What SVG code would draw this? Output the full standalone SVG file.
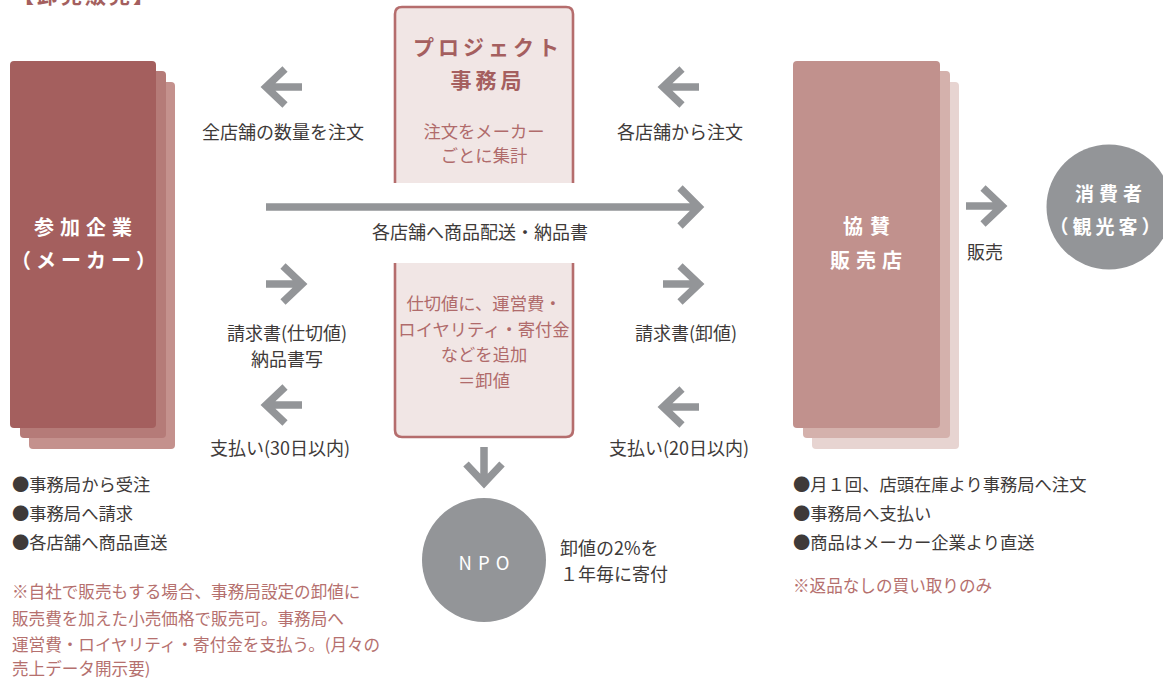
<svg xmlns="http://www.w3.org/2000/svg" width="1163" height="680" viewBox="0 0 1163 680">
<defs>
<style>
text{font-family:"Noto Sans CJK JP","Noto Sans",sans-serif;}
.lbl{font-size:18px;fill:#3e3a39;text-anchor:middle;}
.bul{font-size:17.3px;fill:#3e3a39;}
.note{font-size:16.6px;fill:#b5706e;}
.boxt{font-size:21px;font-weight:bold;fill:#a55f5f;text-anchor:middle;letter-spacing:4px;}
.boxb{font-size:17.3px;fill:#b06b6b;text-anchor:middle;}
.wt{font-size:20px;font-weight:bold;fill:#ffffff;text-anchor:middle;}
.arr{fill:none;stroke:#939598;stroke-width:7.5;stroke-linejoin:miter;stroke-miterlimit:4;}
</style>
<path id="ar" class="arr" d="M0,0 H36 M17,-18 L36,0 L17,18"/>
</defs>
<text x="13" y="3" style="font-size:21px;font-weight:bold;fill:#a45f5e;letter-spacing:3px;">【卸売販売】</text>

<g id="maker">
<rect x="29" y="82" width="146" height="367" rx="4" fill="#c4918d"/>
<rect x="20" y="71" width="146" height="367" rx="4" fill="#b57b78"/>
<rect x="10" y="61" width="146" height="367" rx="4" fill="#a45f5e"/>
<text class="wt" x="86" y="235" style="letter-spacing:6px">参加企業</text>
<text class="wt" x="86" y="268" style="letter-spacing:5px">（メーカー）</text>
</g>

<g id="office">
<path d="M395,183 V14 Q395,7 402,7 H566 Q573,7 573,14 V183" fill="#f1e6e5" stroke="#b56d6d" stroke-width="2.6"/>
<path d="M395,263 V430 Q395,437 402,437 H566 Q573,437 573,430 V263" fill="#f1e6e5" stroke="#b56d6d" stroke-width="2.6"/>
<text class="boxt" x="488" y="55">プロジェクト</text>
<text class="boxt" x="488" y="88">事務局</text>
<text class="boxb" x="484" y="138">注文をメーカー</text>
<text class="boxb" x="484" y="162">ごとに集計</text>
<text class="boxb" x="484" y="310">仕切値に、運営費・</text>
<text class="boxb" x="484" y="336">ロイヤリティ・寄付金</text>
<text class="boxb" x="484" y="361">などを追加</text>
<text class="boxb" x="484" y="387">＝卸値</text>
</g>

<g id="store">
<rect x="812" y="82" width="147" height="367" rx="4" fill="#e7d4d1"/>
<rect x="803" y="71" width="147" height="367" rx="4" fill="#d4b1ac"/>
<rect x="793" y="61" width="147" height="367" rx="4" fill="#c1918d"/>
<text class="wt" x="870" y="234" style="letter-spacing:7px">協賛</text>
<text class="wt" x="869" y="268" style="letter-spacing:6px">販売店</text>
</g>

<g id="consumer">
<circle cx="1109" cy="207" r="62.5" fill="#939598"/>
<text class="wt" x="1111" y="201" style="font-size:19px;letter-spacing:5px">消費者</text>
<text class="wt" x="1107" y="234" style="font-size:19px;letter-spacing:4px">（観光客）</text>
</g>

<g id="npo">
<circle cx="484" cy="560" r="62" fill="#939598"/>
<text class="wt" x="487" y="570" style="font-size:18.5px;font-weight:normal;letter-spacing:6px">NPO</text>
</g>

<g id="connectors">
<use href="#ar" transform="translate(302,87) scale(-1,1)"/>
<use href="#ar" transform="translate(266,284)"/>
<use href="#ar" transform="translate(302,405) scale(-1,1)"/>
<use href="#ar" transform="translate(699,87) scale(-1,1)"/>
<use href="#ar" transform="translate(663,284)"/>
<use href="#ar" transform="translate(699,407) scale(-1,1)"/>
<use href="#ar" transform="translate(966,206)"/>
<use href="#ar" transform="translate(484,447) rotate(90)"/>
<path class="arr" d="M266,207 H699 M680,188 L699,207 L680,226"/>
</g>

<g id="labels">
<text class="lbl" x="283" y="139">全店舗の数量を注文</text>
<text class="lbl" x="680" y="139">各店舗から注文</text>
<text class="lbl" x="480" y="239">各店舗へ商品配送・納品書</text>
<text class="lbl" x="287" y="340">請求書(仕切値)</text>
<text class="lbl" x="287" y="366">納品書写</text>
<text class="lbl" x="686" y="340">請求書(卸値)</text>
<text class="lbl" x="280" y="455">支払い(30日以内)</text>
<text class="lbl" x="679" y="455">支払い(20日以内)</text>
<text class="lbl" x="985" y="259">販売</text>
<text class="bul" x="560" y="555" style="font-size:18px">卸値の2%を</text>
<text class="bul" x="560" y="581" style="font-size:18px">１年毎に寄付</text>
</g>

<g id="notes">
<text class="bul" x="12" y="491">●事務局から受注</text>
<text class="bul" x="12" y="520">●事務局へ請求</text>
<text class="bul" x="12" y="549">●各店舗へ商品直送</text>
<text class="note" x="12" y="598">※自社で販売もする場合、事務局設定の卸値に</text>
<text class="note" x="12" y="625">販売費を加えた小売価格で販売可。事務局へ</text>
<text class="note" x="12" y="651">運営費・ロイヤリティ・寄付金を支払う。(月々の</text>
<text class="note" x="12" y="675">売上データ開示要)</text>
<text class="bul" x="793" y="491">●月１回、店頭在庫より事務局へ注文</text>
<text class="bul" x="793" y="520">●事務局へ支払い</text>
<text class="bul" x="793" y="549">●商品はメーカー企業より直送</text>
<text class="note" x="793" y="592">※返品なしの買い取りのみ</text>
</g>
</svg>
